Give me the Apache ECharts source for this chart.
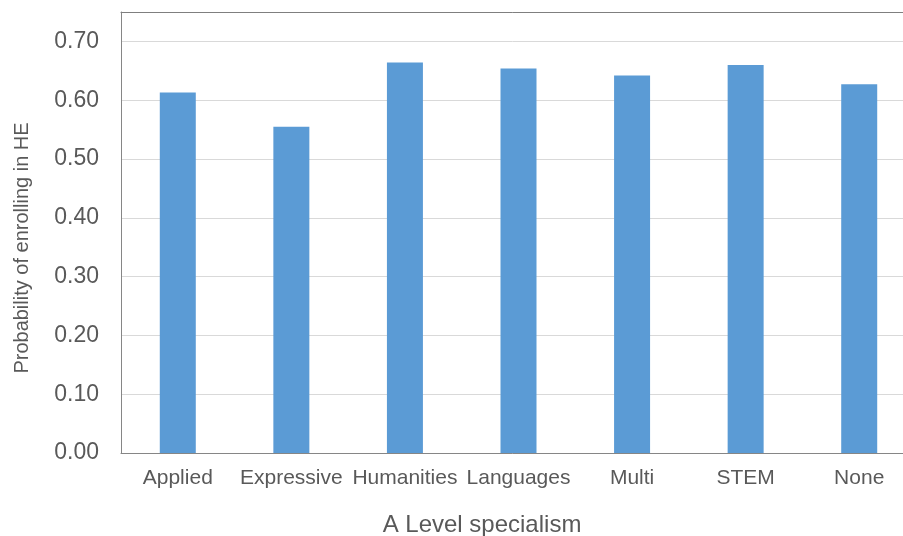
<!DOCTYPE html>
<html>
<head>
<meta charset="utf-8">
<script src="https://cdn.jsdelivr.net/npm/echarts@6/dist/echarts.min.js"></script>
<style>
html,body{margin:0;padding:0;background:#fff;}
#chart{width:903px;height:536px;}
</style>
</head>
<body>
<div id="chart"></div>
<script>
const categories = ['Applied', 'Expressive', 'Humanities', 'Languages', 'Multi', 'STEM', 'None'];
const probability = [0.613, 0.555, 0.664, 0.654, 0.642, 0.660, 0.627];
const yTitle = 'Probability of enrolling in HE';
const xTitle = 'A Level specialism';

const chart = echarts.init(document.getElementById('chart'), null, {renderer: 'canvas'});
const font = 'Liberation Sans, Arial, sans-serif';
chart.setOption({
  animation: false,
  backgroundColor: '#ffffff',
  grid: {left: 121, top: 12, right: -13, bottom: 83, containLabel: false, outerBoundsMode: 'none'},
  xAxis: [{
    type: 'category',
    data: categories,
    position: 'bottom',
    axisLine: {show: true, lineStyle: {color: '#868686', width: 1}},
    axisTick: {show: false},
    axisLabel: {color: '#595959', fontSize: 21, fontFamily: font, margin: 15, interval: 0},
    splitLine: {show: false},
    name: xTitle,
    nameLocation: 'middle',
    nameGap: 60,
    nameMoveOverlap: false,
    nameTextStyle: {color: '#595959', fontSize: 24, fontFamily: font, padding: [0, 73, 0, 0]}
  }, {
    type: 'category',
    data: categories,
    position: 'top',
    axisLine: {show: true, lineStyle: {color: '#7f7f7f', width: 1}},
    axisTick: {show: false},
    axisLabel: {show: false},
    splitLine: {show: false}
  }],
  yAxis: {
    type: 'value',
    min: 0,
    max: 0.75,
    interval: 0.1,
    axisLine: {show: true, lineStyle: {color: '#868686', width: 1}},
    axisTick: {show: false},
    axisLabel: {
      color: '#595959', fontSize: 23, fontFamily: font, margin: 22,
      showMaxLabel: false,
      formatter: v => v.toFixed(2)
    },
    splitLine: {show: true, lineStyle: {color: '#d9d9d9', width: 1}},
    name: yTitle,
    nameLocation: 'middle',
    nameRotate: 90,
    nameGap: 89,
    nameMoveOverlap: false,
    nameTextStyle: {color: '#595959', fontSize: 20, fontFamily: font, padding: [0, 31, 0, 0]}
  },
  series: [{
    type: 'bar',
    data: probability,
    barWidth: 36,
    itemStyle: {color: '#5B9BD5'}
  }]
});
</script>
</body>
</html>
